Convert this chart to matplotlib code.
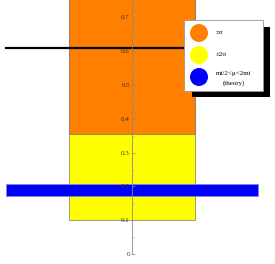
import numpy as np
import matplotlib.pyplot as plt
from matplotlib.patches import Rectangle, Circle
from matplotlib.transforms import IdentityTransform

# values
central = 0.61
sigma_lo, sigma_hi = 0.355, 0.865
two_sigma_lo, two_sigma_hi = 0.10, 1.12
theory_lo, theory_hi = 0.173, 0.207
legend_labels = ["±σ", "±2σ", "mi/2<μ<2mi"]
legend_colors = ["#ff7f00", "#ffff00", "#0000ff"]
yticks = [0, 0.1, 0.2, 0.3, 0.4, 0.5, 0.6, 0.7]
ytick_labels = ["0", "0.1", "0.2", "0.3", "0.4", "0.5", "0.6", "0.7"]

plt.rcParams['font.family'] = ['Liberation Serif', 'DejaVu Serif']

fig = plt.figure(figsize=(2.75, 2.64), dpi=100)
ax = fig.add_axes([0, 0, 1, 1])

# bands (2 sigma behind 1 sigma)
ax.add_patch(Rectangle((-1, two_sigma_lo), 2, two_sigma_hi - two_sigma_lo,
                       facecolor=legend_colors[1], edgecolor='#777777', lw=0.5, zorder=1))
ax.add_patch(Rectangle((-1, sigma_lo), 2, sigma_hi - sigma_lo,
                       facecolor=legend_colors[0], edgecolor='#777777', lw=0.5, zorder=2))
ax.add_patch(Rectangle((-2, theory_lo), 4, theory_hi - theory_lo,
                       facecolor=legend_colors[2], edgecolor='#8888cc', lw=0.5, zorder=3))
ax.plot([-2, 2], [central, central], color='black', lw=1.6, zorder=4)

ax.set_xlim(-2.095, 2.27)
ax.set_ylim(-0.029, 0.751)

for s in ['top', 'right', 'bottom']:
    ax.spines[s].set_visible(False)
ax.spines['left'].set_position(('data', 0))
ax.spines['left'].set_bounds(0, 0.751)
ax.spines['left'].set_color('#888888')
ax.spines['left'].set_linewidth(0.6)
ax.spines['left'].set_zorder(5)
ax.yaxis.set_zorder(6)
ax.set_xticks([])
ax.set_yticks(yticks)
ax.set_yticklabels(ytick_labels)
ax.set_yticks(np.arange(0.05, 0.75, 0.1), minor=True)
ax.tick_params(axis='y', which='major', direction='in', length=1.8, width=0.5,
               color='#888888', labelsize=5, labelcolor='#333333', pad=1.5)
ax.tick_params(axis='y', which='minor', direction='in', length=1.4, width=0.5,
               color='#aaaaaa')
ax.patch.set_alpha(0)

# legend with hard shadow, drawn in pixels
px = IdentityTransform()
fig.patches.append(Rectangle((192, 167), 78, 70, facecolor='black', edgecolor='none',
                             transform=px, figure=fig, zorder=10))
fig.patches.append(Rectangle((184, 173), 79, 71, facecolor='white', edgecolor='#999999',
                             lw=0.6, transform=px, figure=fig, zorder=11))
for i, (lab, col) in enumerate(zip(legend_labels, legend_colors)):
    yc = 264 - (33 + 22 * i)
    fig.patches.append(Circle((199, yc), 9, facecolor=col, edgecolor='none',
                              transform=px, figure=fig, zorder=12))
    if i < 2:
        fig.text(216 / 275, yc / 264, lab, fontsize=5, va='center', ha='left', zorder=13)
    else:
        fig.text(234 / 275, (yc + 4) / 264, lab, fontsize=5, va='center', ha='center', zorder=13)
        fig.text(234 / 275, (yc - 6) / 264, "(theory)", fontsize=5, va='center', ha='center', zorder=13)

fig.savefig('out.png', dpi=100)
